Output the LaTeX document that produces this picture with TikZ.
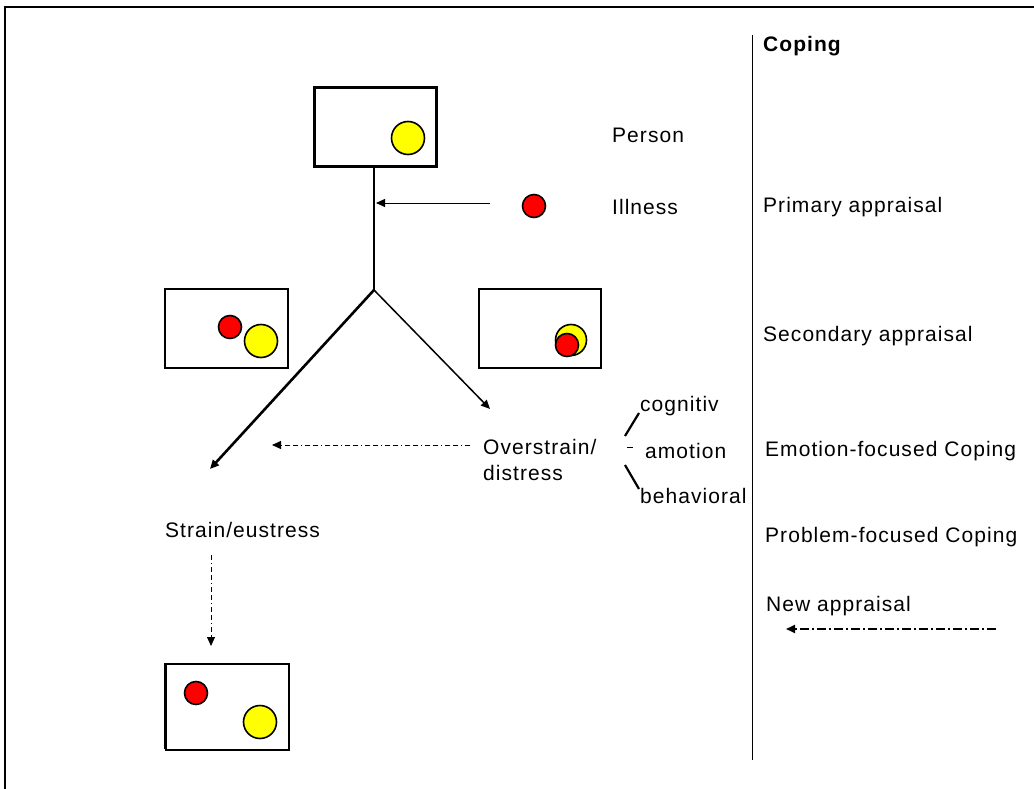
\documentclass[tikz,border=0pt]{standalone}
\usepackage{fontspec}
\setmainfont{Liberation Sans}[LetterSpace=5]
\usetikzlibrary{arrows.meta}
\definecolor{ylw}{RGB}{255,255,0}
\definecolor{rd}{RGB}{255,0,0}
\tikzset{
  lbl/.style={anchor=west, inner sep=0pt, font=\fontsize{21}{26}\selectfont},
  panel/.style={draw, line width=2pt, fill=white},
  ydot/.style={circle, draw, line width=1.6pt, fill=ylw, minimum size=33pt, inner sep=0pt},
  rdot/.style={circle, draw, line width=1.6pt, fill=rd, minimum size=23pt, inner sep=0pt},
  tip/.style={-{Triangle[length=9pt,width=8pt]}},
  dd/.style={dash pattern=on 5pt off 3pt on 1pt off 3pt on 5pt off 3pt},
}
\begin{document}
\begin{tikzpicture}[x=1pt,y=-1pt]
\useasboundingbox (0,0) rectangle (1034,789);
% outer frame
\coordinate (f1) at (1034,7);
\coordinate (f2) at (5,7);
\coordinate (f3) at (5,789);
\draw[line width=1.8pt] (f1) -- (f2) -- (f3);
% divider
\coordinate (d1) at (752,35);
\coordinate (d2) at (752,760);
\draw[line width=0.9pt] (d1) -- (d2);
\node[lbl, font=\fontsize{21}{25}\selectfont\bfseries] (coping) at (763,46) {Coping};

% person box
\node[panel, line width=2.6pt, minimum width=122pt, minimum height=79pt, anchor=north west] (pbox) at (313,86) {};
\node[ydot] (py) at (408,138) {};
\node[lbl] (person) at (612,135) {Person};
% stem
\coordinate (stemtop) at (374,165);
\coordinate (fork) at (374,290);
\draw[line width=2.6pt] (stemtop) -- (fork);
% illness
\node[rdot] (ill) at (534,206) {};
\node[lbl] (illness) at (612,207) {Illness};
\coordinate (illstart) at (490,203);
\coordinate (illend) at (376,203);
\draw[line width=0.9pt, tip] (illstart) -- (illend);
\node[lbl] (prim) at (763,207) {Primary appraisal};

% secondary boxes
\node[panel, minimum width=123pt, minimum height=79pt, anchor=north west] (lbox) at (164,288) {};
\node[rdot] (lr) at (230,327) {};
\node[ydot] (ly) at (261,341) {};
\node[panel, minimum width=122pt, minimum height=79pt, anchor=north west] (rbox) at (478,288) {};
\node[ydot, minimum size=31pt] (ry) at (571,340) {};
\node[rdot] (rr) at (567,345) {};
\node[lbl] (sec) at (763,336) {Secondary appraisal};

% branches
\coordinate (lend) at (210,469);
\coordinate (rend) at (490,409);
\draw[line width=2.6pt, tip] (fork) -- (lend);
\draw[line width=1.5pt, tip] (fork) -- (rend);

% overstrain
\node[lbl, align=left, anchor=north west] (over) at (483,439) {Overstrain/\\distress};
\coordinate (dstart) at (470,445);
\coordinate (dend) at (272,445);
\draw[line width=0.9pt, dd, tip] (dstart) -- (dend);

% coping forms
\node[lbl] (cog) at (640,406) {cognitiv};
\node[lbl] (amo) at (645,451) {amotion};
\node[lbl] (beh) at (640,496) {behavioral};
\coordinate (c1) at (625,436);
\coordinate (c2) at (639,413);
\coordinate (a1) at (627,447);
\coordinate (a2) at (633,447);
\coordinate (b1) at (625,465);
\coordinate (b2) at (639,489);
\draw[line width=2.2pt] (c1) -- (c2);
\draw[line width=1pt] (a1) -- (a2);
\draw[line width=2.2pt] (b1) -- (b2);
\node[lbl] (emo) at (765,451) {Emotion-focused Coping};

% strain
\node[lbl] (strain) at (165,530) {Strain/eustress};
\node[lbl] (prob) at (765,537) {Problem-focused Coping};
\coordinate (vs) at (211,555);
\coordinate (ve) at (211,646);
\draw[line width=0.9pt, dd, tip] (vs) -- (ve);

% bottom box
\node[panel, line width=1.6pt, minimum width=123pt, minimum height=86pt, anchor=north west] (bbox) at (165,663) {};
\coordinate (bl1) at (165,663);
\coordinate (bl2) at (165,749);
\draw[line width=3pt] (bl1) -- (bl2);
\node[rdot] (br) at (196,693) {};
\node[ydot] (by) at (260,722) {};

% new appraisal
\node[lbl] (newap) at (766,606) {New appraisal};
\coordinate (ns) at (996,629);
\coordinate (ne) at (786,629);
\draw[line width=2pt, dash pattern=on 9pt off 3pt on 2pt off 3pt, tip] (ns) -- (ne);
\end{tikzpicture}
\end{document}
